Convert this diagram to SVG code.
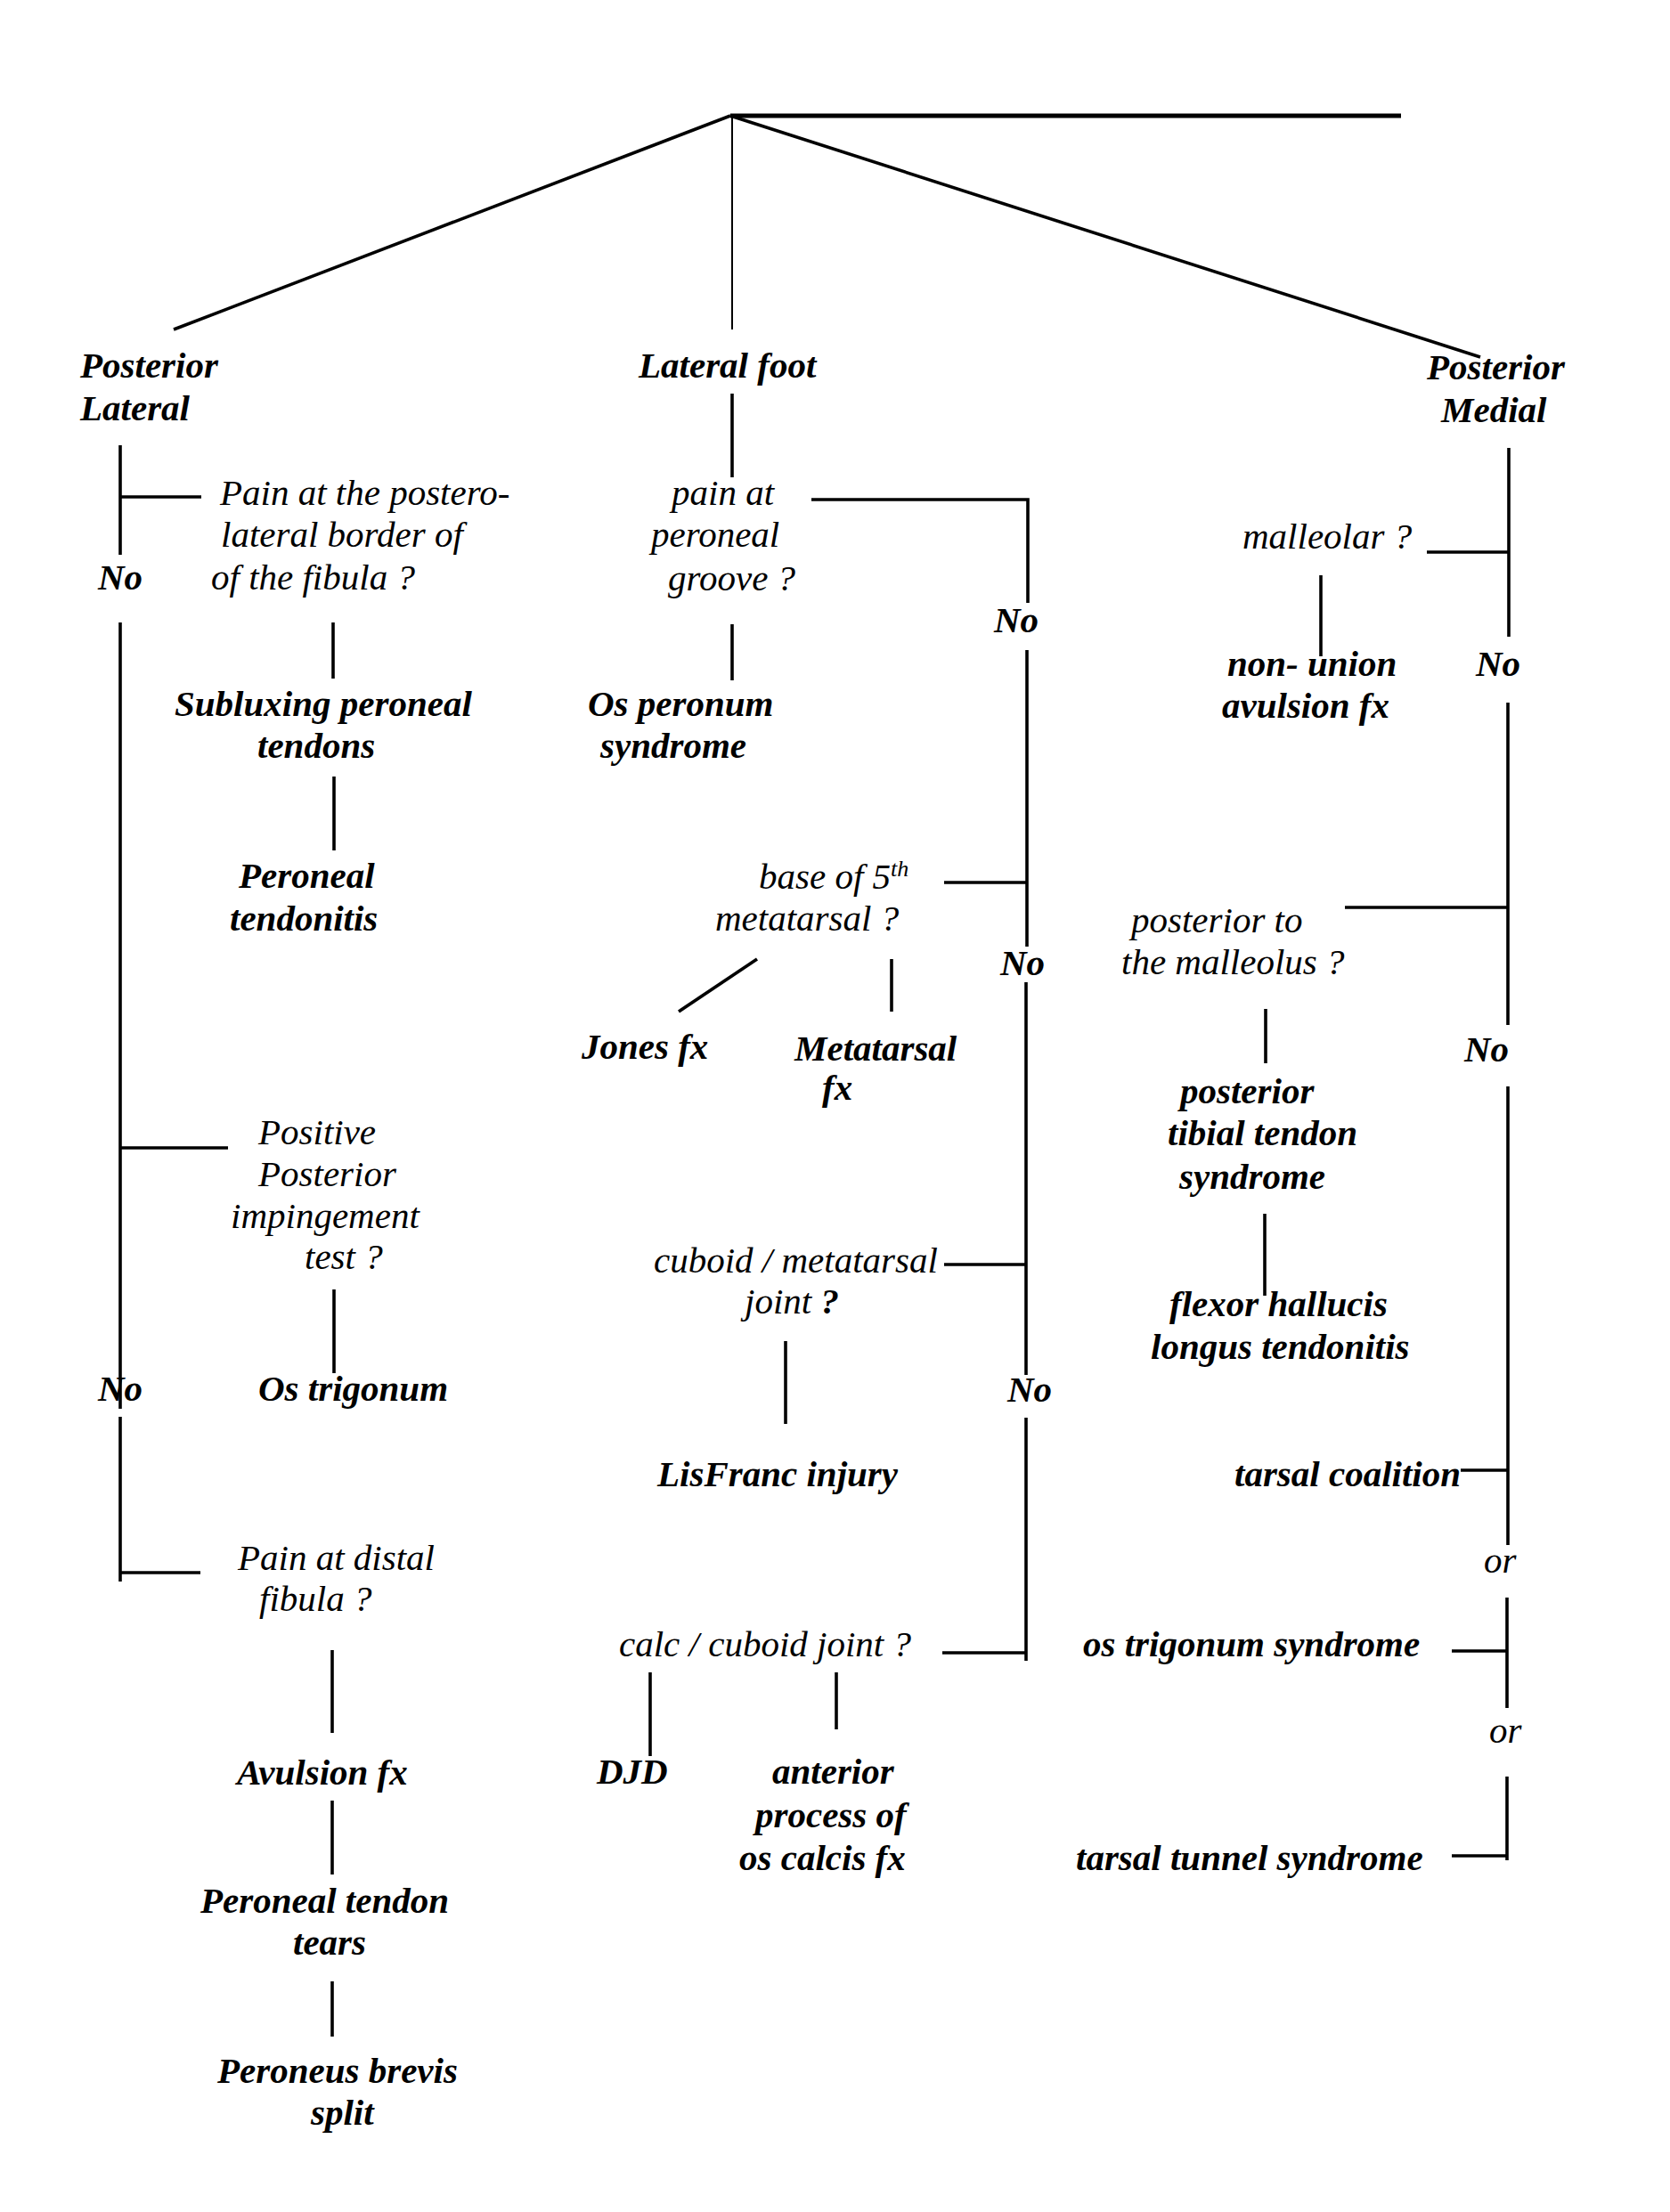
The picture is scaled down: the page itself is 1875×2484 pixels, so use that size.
<svg xmlns="http://www.w3.org/2000/svg" width="1875" height="2484" viewBox="0 0 1875 2484">
<style>
text{font-family:"Liberation Serif","Times New Roman",serif;font-style:italic;font-size:41px;fill:#000}
.b{font-weight:bold}
.c path{fill:none;stroke:#000;stroke-width:3.6;stroke-linecap:butt}
</style>
<rect width="1875" height="2484" fill="#fff"/>
<g id="connectors" class="c">
<path d="M820,130 L1573,130" style="stroke-width:5"/>
<path d="M820,130 L195,370"/>
<path d="M820,130 L1662,401"/>
<path d="M822,130 L822,370" style="stroke-width:2"/>
<path d="M135,500 L135,623"/>
<path d="M135,558 L226,558"/>
<path d="M135,699 L135,1582"/>
<path d="M135,1289 L256,1289"/>
<path d="M135,1591 L135,1776"/>
<path d="M135,1766 L225,1766"/>
<path d="M374,699 L374,762"/>
<path d="M375,872 L375,955"/>
<path d="M375,1448 L375,1542"/>
<path d="M373,1853 L373,1946"/>
<path d="M373,2022 L373,2105"/>
<path d="M373,2225 L373,2287"/>
<path d="M822,442 L822,536"/>
<path d="M911,561 L1154,561 L1154,677"/>
<path d="M822,701 L822,764"/>
<path d="M1153,730 L1153,1063"/>
<path d="M1060,991 L1153,991"/>
<path d="M850,1077 L762,1136"/>
<path d="M1001,1077 L1001,1136"/>
<path d="M1152,1103 L1152,1544"/>
<path d="M1060,1420 L1152,1420"/>
<path d="M882,1506 L882,1599"/>
<path d="M1152,1592 L1152,1865"/>
<path d="M1058,1856 L1152,1856"/>
<path d="M730,1878 L730,1972"/>
<path d="M939,1878 L939,1942"/>
<path d="M1694,503 L1694,715"/>
<path d="M1602,620 L1694,620"/>
<path d="M1483,646 L1483,737"/>
<path d="M1693,789 L1693,1151"/>
<path d="M1510,1019 L1693,1019"/>
<path d="M1421,1133 L1421,1194"/>
<path d="M1420,1363 L1420,1455"/>
<path d="M1693,1220 L1693,1735"/>
<path d="M1640,1651 L1693,1651"/>
<path d="M1692,1794 L1692,1918"/>
<path d="M1630,1854 L1692,1854"/>
<path d="M1692,1995 L1692,2089"/>
<path d="M1630,2084 L1692,2084"/>
</g>
<g id="posterior-lateral"><text class="b" x="90" y="424">Posterior</text><text class="b" x="90" y="472">Lateral</text></g>
<g id="lateral-foot"><text class="b" x="717" y="424">Lateral foot</text></g>
<g id="posterior-medial"><text class="b" x="1602" y="426">Posterior</text><text class="b" x="1618" y="474">Medial</text></g>
<g id="q-posterolateral"><text x="247" y="567">Pain at the postero-</text><text x="248" y="614">lateral border of</text><text x="237" y="662">of the fibula ?</text></g>
<g id="no-l1"><text class="b" x="110" y="662">No</text></g>
<g id="subluxing"><text class="b" x="196" y="804">Subluxing peroneal</text><text class="b" x="289" y="851">tendons</text></g>
<g id="peroneal-tendonitis"><text class="b" x="268" y="997">Peroneal</text><text class="b" x="258" y="1045">tendonitis</text></g>
<g id="q-impingement"><text x="290" y="1285">Positive</text><text x="290" y="1332">Posterior</text><text x="259" y="1379">impingement</text><text x="342" y="1425">test ?</text></g>
<g id="no-l2"><text class="b" x="110" y="1573">No</text></g>
<g id="os-trigonum"><text class="b" x="290" y="1573">Os trigonum</text></g>
<g id="q-distal-fibula"><text x="267" y="1763">Pain at distal</text><text x="291" y="1809">fibula ?</text></g>
<g id="avulsion"><text class="b" x="266" y="2004">Avulsion fx</text></g>
<g id="peroneal-tears"><text class="b" x="225" y="2148">Peroneal tendon</text><text class="b" x="329" y="2195">tears</text></g>
<g id="brevis-split"><text class="b" x="244" y="2339">Peroneus brevis</text><text class="b" x="349" y="2386">split</text></g>
<g id="q-groove"><text x="754" y="567">pain at</text><text x="731" y="614">peroneal</text><text x="750" y="663">groove ?</text></g>
<g id="no-m1"><text class="b" x="1116" y="710">No</text></g>
<g id="os-peronum"><text class="b" x="660" y="804">Os peronum</text><text class="b" x="674" y="851">syndrome</text></g>
<g id="q-base5"><text x="852" y="998">base of 5<tspan font-size="26" dy="-14">th</tspan></text><text x="803" y="1045">metatarsal ?</text></g>
<g id="no-m2"><text class="b" x="1123" y="1095">No</text></g>
<g id="jones"><text class="b" x="653" y="1189">Jones fx</text></g>
<g id="metatarsal-fx"><text class="b" x="892" y="1191">Metatarsal</text><text class="b" x="923" y="1235">fx</text></g>
<g id="q-cuboid-met"><text x="734" y="1429">cuboid / metatarsal</text><text x="836" y="1475">joint <tspan class="b">?</tspan></text></g>
<g id="no-m3"><text class="b" x="1131" y="1574">No</text></g>
<g id="lisfranc"><text class="b" x="738" y="1669">LisFranc injury</text></g>
<g id="q-calc-cuboid"><text x="695" y="1860">calc / cuboid joint ?</text></g>
<g id="djd"><text class="b" x="670" y="2003">DJD</text></g>
<g id="anterior-process"><text class="b" x="867" y="2003">anterior</text><text class="b" x="848" y="2052">process of</text><text class="b" x="830" y="2100">os calcis fx</text></g>
<g id="q-malleolar"><text x="1395" y="616">malleolar ?</text></g>
<g id="non-union"><text class="b" x="1378" y="759">non- union</text><text class="b" x="1372" y="806">avulsion fx</text></g>
<g id="no-r1"><text class="b" x="1657" y="759">No</text></g>
<g id="q-post-malleolus"><text x="1270" y="1047">posterior to</text><text x="1259" y="1094">the malleolus ?</text></g>
<g id="no-r2"><text class="b" x="1644" y="1192">No</text></g>
<g id="ptt"><text class="b" x="1325" y="1239">posterior</text><text class="b" x="1311" y="1286">tibial tendon</text><text class="b" x="1324" y="1335">syndrome</text></g>
<g id="fhl"><text class="b" x="1313" y="1478">flexor hallucis</text><text class="b" x="1292" y="1526">longus tendonitis</text></g>
<g id="tarsal-coalition"><text class="b" x="1386" y="1669">tarsal coalition</text></g>
<g id="or1"><text x="1666" y="1766">or</text></g>
<g id="os-trigonum-syndrome"><text class="b" x="1216" y="1860">os trigonum syndrome</text></g>
<g id="or2"><text x="1672" y="1957">or</text></g>
<g id="tarsal-tunnel"><text class="b" x="1208" y="2100">tarsal tunnel syndrome</text></g>
</svg>
